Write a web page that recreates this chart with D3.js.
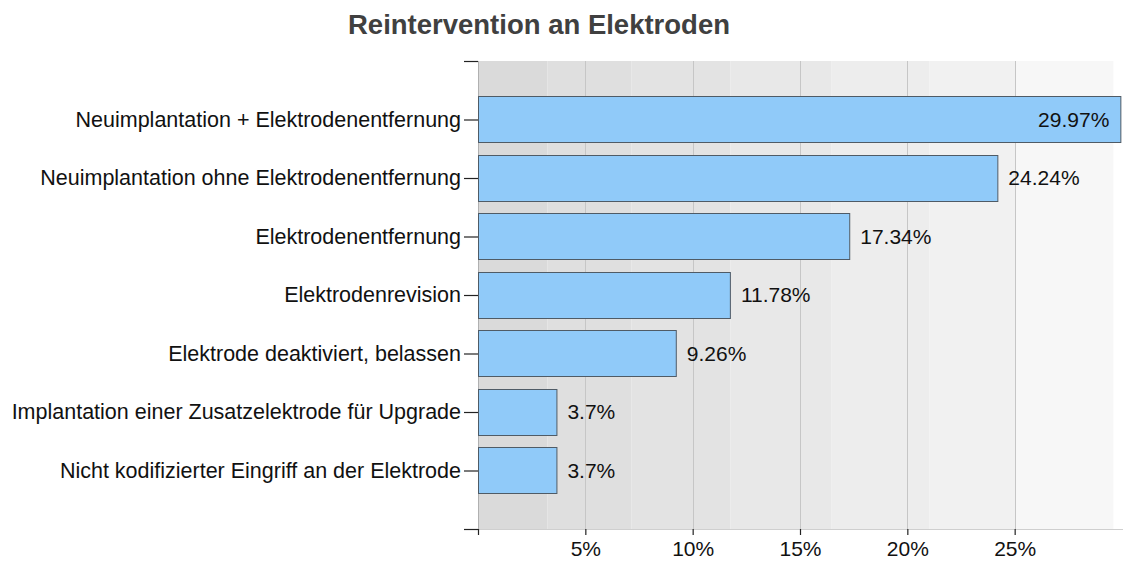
<!DOCTYPE html>
<html>
<head>
<meta charset="utf-8">
<script src="https://cdn.jsdelivr.net/npm/d3@7"></script>
<style>
  html, body { margin: 0; padding: 0; background: #fff; }
  svg { display: block; font-family: "Liberation Sans", Arial, sans-serif; }
</style>
</head>
<body>
<svg id="chart" width="1123" height="561"></svg>
<script>
// Reintervention types and their shares (percent)
const categories = [
  "Neuimplantation + Elektrodenentfernung",
  "Neuimplantation ohne Elektrodenentfernung",
  "Elektrodenentfernung",
  "Elektrodenrevision",
  "Elektrode deaktiviert, belassen",
  "Implantation einer Zusatzelektrode für Upgrade",
  "Nicht kodifizierter Eingriff an der Elektrode"
];
const values = [29.97, 24.24, 17.34, 11.78, 9.26, 3.7, 3.7];
const valueLabels = ["29.97%", "24.24%", "17.34%", "11.78%", "9.26%", "3.7%", "3.7%"];

const xTicks = [5, 10, 15, 20, 25];
const xTickLabels = ["5%", "10%", "15%", "20%", "25%"];

// Shaded background bands (percent boundaries) and their greys
const bandBreaks = [0, 3.24, 7.14, 11.75, 16.45, 21.02, 25.02, 29.6];
const bandColors = ["#dadada", "#dfdfdf", "#e3e3e3", "#e8e8e8", "#ededed", "#f1f1f1", "#f7f7f7"];

const title = "Reintervention an Elektroden";

const svg = d3.select("#chart");
const plotLeft = 478, plotRight = 1122, plotTop = 61, plotBottom = 529;

const x = d3.scaleLinear().domain([0, 30]).range([plotLeft, plotRight]);
const y = d3.scalePoint().domain(categories).range([plotTop, plotBottom]).padding(1);
const barH = y.step() * 0.79;

// background bands
svg.append("g").selectAll("rect")
  .data(bandColors)
  .join("rect")
  .attr("x", (d, i) => x(bandBreaks[i]))
  .attr("width", (d, i) => x(bandBreaks[i + 1]) - x(bandBreaks[i]))
  .attr("y", plotTop)
  .attr("height", plotBottom - plotTop)
  .attr("fill", d => d);

// vertical gridlines
svg.append("g").selectAll("line")
  .data(xTicks)
  .join("line")
  .attr("x1", d => Math.round(x(d)) + 0.5)
  .attr("x2", d => Math.round(x(d)) + 0.5)
  .attr("y1", plotTop)
  .attr("y2", plotBottom)
  .attr("stroke", "#c6c6c6")
  .attr("stroke-width", 1);

// left axis line (grey) and bottom baseline (grey)
svg.append("line")
  .attr("x1", plotLeft + 0.5).attr("x2", plotLeft + 0.5)
  .attr("y1", plotTop).attr("y2", plotBottom)
  .attr("stroke", "#b0b0b0");
svg.append("line")
  .attr("x1", plotLeft).attr("x2", 1123)
  .attr("y1", plotBottom + 0.5).attr("y2", plotBottom + 0.5)
  .attr("stroke", "#cfcfcf");

// bars
svg.append("g").selectAll("rect")
  .data(values)
  .join("rect")
  .attr("x", plotLeft + 0.5)
  .attr("y", (d, i) => Math.round(y(categories[i]) - barH / 2) + 0.5)
  .attr("width", d => x(d) - plotLeft - 1)
  .attr("height", Math.round(barH))
  .attr("fill", "#90caf9")
  .attr("stroke", "#4f5b66")
  .attr("stroke-width", 1);

// y axis: ticks and category labels
const yAxis = d3.axisLeft(y).tickSize(14).tickPadding(3).tickSizeOuter(0);
const gy = svg.append("g").attr("transform", `translate(${plotLeft},0)`).call(yAxis);
gy.select(".domain").remove();
gy.selectAll(".tick line").attr("stroke", "#222").attr("stroke-width", 1.2);
gy.selectAll(".tick text")
  .attr("font-size", 21.5)
  .attr("fill", "#111")
  .attr("font-family", "Liberation Sans, Arial, sans-serif");

// end ticks at top and bottom of the y axis
svg.append("g").selectAll("line")
  .data([plotTop, plotBottom])
  .join("line")
  .attr("x1", plotLeft - 14).attr("x2", plotLeft)
  .attr("y1", d => d + 0.5).attr("y2", d => d + 0.5)
  .attr("stroke", "#222").attr("stroke-width", 1.2);

// x axis: ticks and labels
const xAxis = d3.axisBottom(x).tickValues([0, ...xTicks])
  .tickFormat(d => d === 0 ? "" : xTickLabels[xTicks.indexOf(d)])
  .tickSize(6).tickPadding(6).tickSizeOuter(0);
const gx = svg.append("g").attr("transform", `translate(0,${plotBottom})`).call(xAxis);
gx.select(".domain").remove();
gx.selectAll(".tick line").attr("stroke", "#222").attr("stroke-width", 1.2);
gx.selectAll(".tick text")
  .attr("font-size", 21)
  .attr("fill", "#111")
  .attr("font-family", "Liberation Sans, Arial, sans-serif");

// value labels
const vl = svg.append("g").selectAll("text")
  .data(values)
  .join("text")
  .attr("y", (d, i) => y(categories[i]))
  .attr("dy", "0.35em")
  .attr("font-size", 21)
  .attr("fill", "#111")
  .text((d, i) => valueLabels[i]);
vl.each(function(d) {
  const t = d3.select(this);
  const w = this.getComputedTextLength();
  if (x(d) + 10 + w > 1123) {
    t.attr("x", x(d) - 12).attr("text-anchor", "end");
  } else {
    t.attr("x", x(d) + 10).attr("text-anchor", "start");
  }
});

// title
svg.append("text")
  .attr("x", 539)
  .attr("y", 34)
  .attr("text-anchor", "middle")
  .attr("font-size", 27.5)
  .attr("font-weight", "bold")
  .attr("fill", "#404040")
  .text(title);
</script>
</body>
</html>
